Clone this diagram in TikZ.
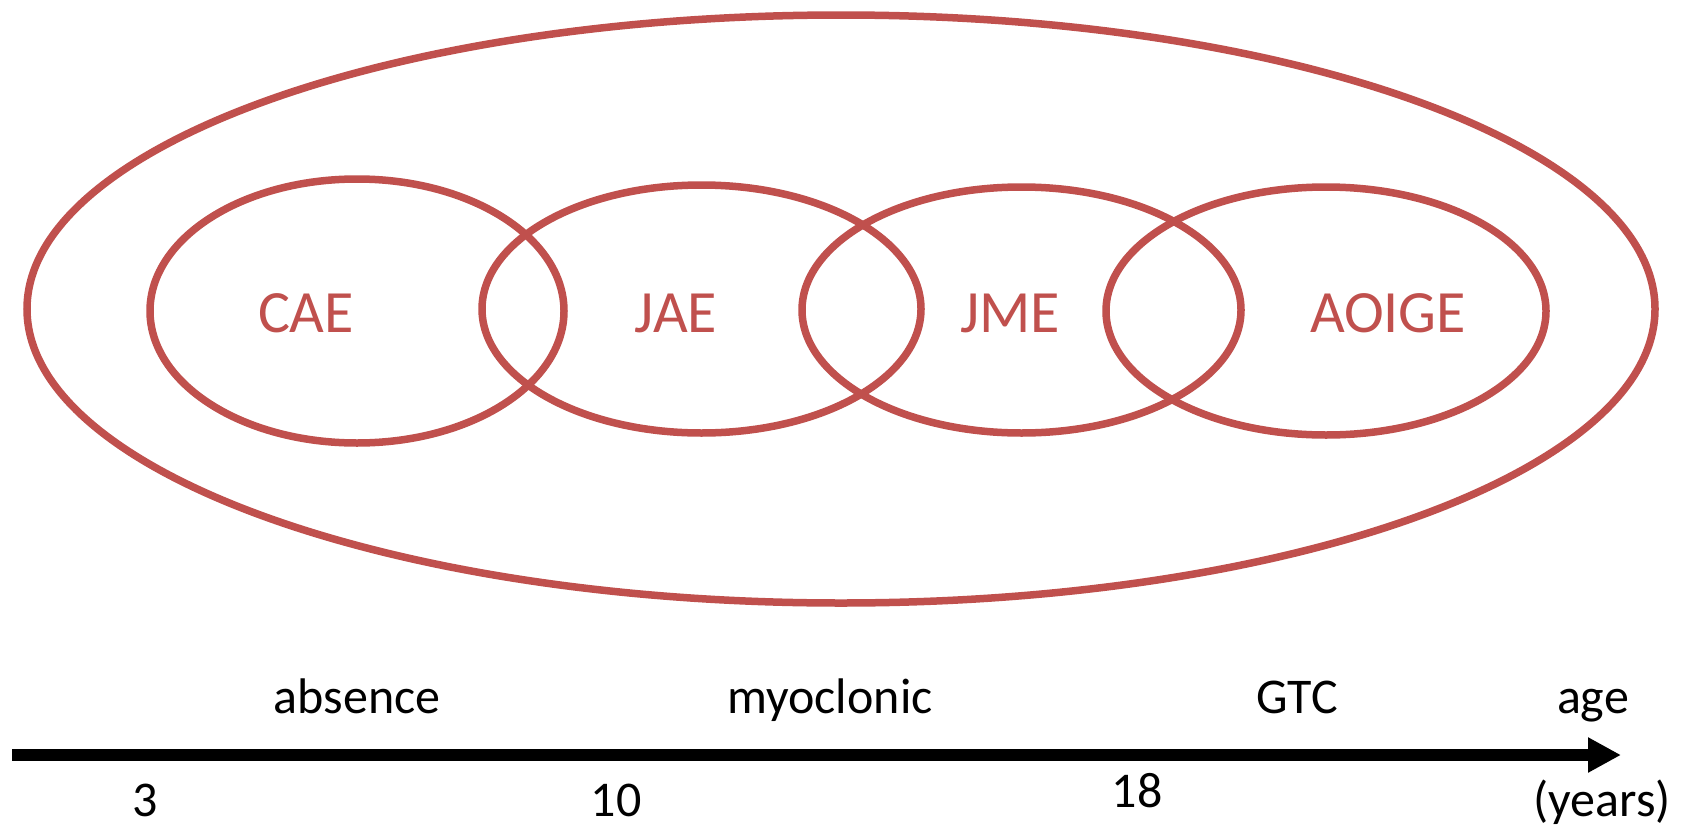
\documentclass[tikz,border=0pt]{standalone}
\usepackage{fontspec}
\setmainfont{Carlito}
\usetikzlibrary{shapes.geometric,arrows.meta}
\definecolor{ored}{HTML}{C0504D}
\tikzset{
  ring/.style={draw=ored, line width=7.5pt, ellipse, inner sep=0pt, outer sep=0pt},
  syn/.style={text=ored, font=\fontsize{60}{60}\selectfont, anchor=base, inner sep=0pt},
  lbl/.style={text=black, font=\fontsize{50}{50}\selectfont, anchor=base, inner sep=0pt},
}
\begin{document}
\begin{tikzpicture}[x=1pt, y=-1pt]
\useasboundingbox[fill=white] (0,0) rectangle (1686,830);
% outer ellipse
\node[ring, minimum width=1628pt, minimum height=588pt] (outer) at (841,309) {};
% inner ellipses
\node[ring, minimum width=414pt, minimum height=264pt] (cae) at (357,311) {};
\node[ring, minimum width=439pt, minimum height=248pt] (jae) at (701.5,309) {};
\node[ring, minimum width=439pt, minimum height=246pt] (jme) at (1021.5,310) {};
\node[ring, minimum width=440pt, minimum height=248pt] (aoige) at (1326,311) {};
% labels
\node[syn] (tcae) at (306,332) {CAE};
\node[syn] (tjae) at (676,332) {JAE};
\node[syn] (tjme) at (1010,332) {JME};
\node[syn] (taoige) at (1388,332) {AOIGE};
% axis
\coordinate (a0) at (12,755);
\coordinate (a1) at (1621,755);
\draw[line width=12pt, -{Triangle[length=33pt,width=33pt]}] (a0) -- (a1);
% top row labels
\node[lbl] (absence) at (357,713) {absence};
\node[lbl] (myoclonic) at (830,713) {myoclonic};
\node[lbl] (gtc) at (1297,713) {GTC};
\node[lbl] (age) at (1593,713) {age};
% bottom row labels
\node[lbl] (n3) at (145,816) {3};
\node[lbl] (n10) at (616,816) {10};
\node[lbl] (n18) at (1137,807) {18};
\node[lbl] (years) at (1602,816) {(years)};
\end{tikzpicture}
\end{document}
